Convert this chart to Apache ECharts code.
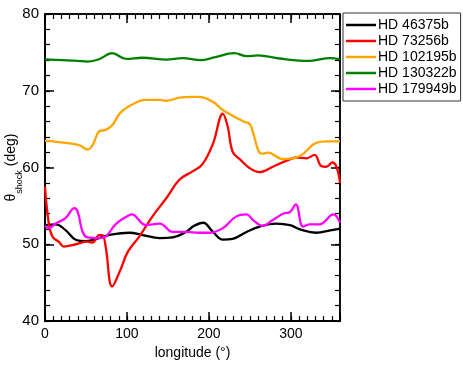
<!DOCTYPE html>
<html><head><meta charset="utf-8">
<script src="https://cdn.jsdelivr.net/npm/echarts@6/dist/echarts.min.js"></script>
<style>html,body{margin:0;padding:0;background:#fff}#c{width:463px;height:366px}</style>
</head><body><div id="c"></div>
<script>
const seriesNames = ["HD 46375b","HD 73256b","HD 102195b","HD 130322b","HD 179949b"];
const seriesColors = ["#000000","#ff0000","#ffa500","#008000","#ff00ff"];
const xTicks = [0,100,200,300];
const yTicks = [40,50,60,70,80];

const hd46375b = [[0,52.5],[13,52.6],[25,51.85],[38,50.55],[50,50.4],[66,50.8],[78,51.2],[103,51.5],[119,51.2],[140,50.8],[156,50.9],[172,51.6],[182,52.4],[193,52.8],[205,51.6],[217,50.6],[229,50.7],[246,51.6],[262,52.3],[282,52.7],[299,52.5],[311,51.95],[331,51.5],[348,51.8],[360,52.05]];
const hd73256b = [[0,57.5],[4,53.2],[9,51.0],[17,50.3],[23,49.7],[38,50.0],[52,50.35],[58,50.2],[66,51.2],[70,51.2],[74,49.7],[82,44.5],[91,46.4],[101,49.0],[115,51.0],[131,53.6],[148,56.0],[164,58.4],[180,59.5],[192,60.4],[205,63.1],[217,67.0],[223,65.3],[229,62.05],[238,61.05],[250,59.9],[262,59.4],[278,60.1],[295,60.9],[307,61.3],[319,61.2],[329,61.65],[337,60.2],[343,60.1],[351,60.65],[356,60.0],[360,58.0]];
const hd102195b = [[0,63.5],[25,63.2],[42,62.9],[52,62.35],[58,62.9],[66,64.7],[74,64.9],[82,65.5],[91,67.0],[103,68.0],[123,68.8],[140,68.8],[148,68.7],[164,69.1],[180,69.2],[188,69.2],[205,68.55],[217,67.5],[242,66.0],[250,65.65],[254,64.5],[262,61.9],[266,61.8],[272,61.95],[290,61.1],[311,61.5],[331,63.2],[345,63.4],[360,63.4]];
const hd130322b = [[0,74.1],[20,74.0],[40,73.9],[52,73.8],[66,74.1],[82,74.9],[99,74.15],[119,74.3],[148,74.05],[168,74.25],[190,74.0],[205,74.3],[231,74.9],[246,74.5],[260,74.6],[286,74.2],[323,73.9],[348,74.25],[360,74.1]];
const hd179949b = [[0,52.4],[5,52.1],[13,52.7],[25,53.4],[36,54.7],[40,54.2],[46,51.6],[52,50.9],[66,50.8],[74,51.0],[87,52.7],[103,53.8],[106,53.9],[123,52.5],[140,52.7],[156,51.6],[172,51.6],[188,51.5],[201,51.5],[217,52.1],[233,53.6],[246,53.9],[254,53.15],[266,52.4],[278,53.15],[291,54.0],[299,54.2],[306,55.2],[315,52.3],[323,52.6],[335,52.6],[352,53.9],[360,52.8]];
const allData = [hd46375b,hd73256b,hd102195b,hd130322b,hd179949b];

const FONT = "Liberation Sans, Arial, sans-serif";
const rect = {left:45,right:123,top:14,bottom:45,containLabel:false,outerBoundsMode:'none'};
const line = {show:true,onZero:false,lineStyle:{color:'#000',width:1.5}};
const majTick = {show:true,inside:true,length:9,lineStyle:{color:'#000',width:1.5}};
const minTick = {show:true,inside:true,length:5,lineStyle:{color:'#000',width:1.2}};
function xAx(g,pos,interval,tick,extra){return Object.assign({gridIndex:g,type:'value',min:0,max:360,interval:interval,position:pos,
  axisLine:line,axisTick:tick,axisLabel:{show:false},splitLine:{show:false}},extra||{});}
function yAx(g,pos,interval,tick,extra){return Object.assign({gridIndex:g,type:'value',min:40,max:80,interval:interval,position:pos,
  axisLine:line,axisTick:tick,axisLabel:{show:false},splitLine:{show:false}},extra||{});}
const chart = echarts.init(document.getElementById('c'),null,{renderer:'canvas'});
chart.setOption({
  animation:false,
  backgroundColor:'#fff',
  grid:[Object.assign({},rect),Object.assign({},rect),Object.assign({},rect)],
  legend:{
    orient:'vertical',left:343,top:13,
    data:seriesNames,
    icon:'rect',
    itemWidth:30,itemHeight:2.5,itemGap:0,
    borderColor:'#333',borderWidth:1,padding:[4,4,4,3],
    textStyle:{color:'#000',fontSize:14,lineHeight:16,fontFamily:FONT,padding:[0,0,0,-3]}
  },
  xAxis:[
    xAx(0,'bottom',100,{show:false},{name:'longitude (°)',nameLocation:'middle',nameGap:25,nameMoveOverlap:false,
      nameTextStyle:{color:'#000',fontSize:14,fontFamily:FONT},
      axisLabel:{show:true,color:'#000',fontSize:14,fontFamily:FONT,margin:6,
        formatter:v=>xTicks.includes(v)?String(v):''}}),
    xAx(1,'bottom',100,majTick),
    xAx(1,'top',100,majTick),
    xAx(2,'bottom',10,minTick),
    xAx(2,'top',10,minTick)
  ],
  yAxis:[
    yAx(0,'left',10,{show:false},{name:'{a|θ}{s|shock}{a| (deg)}',nameLocation:'middle',nameGap:27,nameRotate:90,nameMoveOverlap:false,
      nameTextStyle:{color:'#000',fontFamily:FONT,rich:{a:{fontSize:14,fontFamily:FONT,color:'#000'},s:{fontSize:9,fontFamily:FONT,color:'#000',verticalAlign:'bottom',padding:[0,0,-6,0]}}},
      axisLabel:{show:true,color:'#000',fontSize:15,fontFamily:FONT,margin:6,
        formatter:v=>yTicks.includes(v)?String(v):''}}),
    yAx(1,'left',10,majTick),
    yAx(1,'right',10,majTick),
    yAx(2,'left',2,minTick),
    yAx(2,'right',2,minTick)
  ],
  series:seriesNames.map((n,i)=>({
    name:n,type:'line',data:allData[i],smooth:0.4,symbol:'none',
    xAxisIndex:0,yAxisIndex:0,
    lineStyle:{color:seriesColors[i],width:2.3},itemStyle:{color:seriesColors[i]},
    clip:true
  }))
});
</script></body></html>
